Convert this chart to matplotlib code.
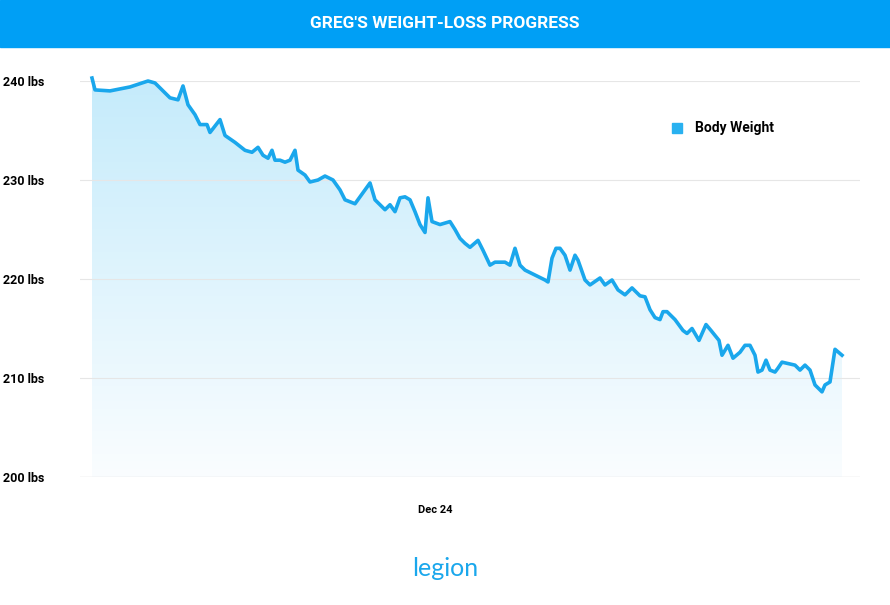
import numpy as np
import matplotlib
matplotlib.use("Agg")
import matplotlib.pyplot as plt
from matplotlib.patches import Rectangle

days = [0,0.6,3.6,7.6,11.2,12.6,15.6,17.2,18.2,19.2,20.6,21.6,23,23.6,25.6,26.6,28.6,30.6,32,33.2,34.2,35.2,36,36.6,37.6,38.6,39.6,40.6,41.2,42.6,43.6,45.2,46.6,48.2,49.6,50.6,52.6,54.6,55.6,56.6,58.6,59.6,60.6,61.6,62.6,63.6,64.6,65.6,66.6,67.2,68,69.6,71.6,72.6,73.6,74.6,75.6,77.2,78.2,79.6,80.6,81.6,82.6,83.6,84.6,85.6,86.6,88.6,90.6,91.2,92,92.8,93.6,94.6,95.6,96.6,97.2,98.6,99.6,101.6,102.6,104,105.2,106.6,108,109.6,110.6,111.6,112.6,113.6,114.2,115,116.6,118.2,119,120,121.4,122.8,123.8,125.4,126,127.2,128.2,129.6,130.6,131.6,132.6,133.2,134,134.8,135.6,136.6,137.2,138,140.6,141.6,142.6,143.6,144.6,146,146.6,147.6,148.6,150]
weights = [240.3,239.1,239.0,239.4,240.0,239.8,238.3,238.1,239.5,237.6,236.6,235.6,235.6,234.8,236.1,234.5,233.8,233.0,232.8,233.3,232.5,232.2,233.0,232.0,232.0,231.8,232.0,233.0,231.0,230.5,229.8,230.0,230.4,230.0,229.0,228.0,227.6,229.0,229.7,228.0,227.0,227.5,226.8,228.2,228.3,228.0,226.8,225.5,224.7,228.2,225.8,225.5,225.8,225.0,224.1,223.6,223.2,223.9,222.9,221.4,221.7,221.7,221.7,221.4,223.1,221.4,220.9,220.4,219.9,219.7,222.1,223.1,223.1,222.4,220.9,222.4,221.9,219.9,219.4,220.1,219.4,219.9,218.9,218.4,219.1,218.3,218.2,216.9,216.1,215.9,216.7,216.7,215.9,214.8,214.5,215.0,213.8,215.4,214.8,213.8,212.3,213.3,212.0,212.6,213.3,213.3,212.3,210.6,210.8,211.8,210.8,210.6,211.0,211.6,211.3,210.8,211.3,210.8,209.3,208.6,209.3,209.6,212.9,212.3,210.8,209.5,209.8,210.3]
n = min(len(days), len(weights))
days = np.array(days[:n]); weights = np.array(weights[:n])
yticks = [200, 210, 220, 230, 240]
ytick_labels = ["200 lbs", "210 lbs", "220 lbs", "230 lbs", "240 lbs"]
xtick_day = [68.6]
xtick_labels = ["Dec 24"]

W, H = 890, 605
fig = plt.figure(figsize=(W/100, H/100), dpi=100)
fig.patches.append(Rectangle((0, 1-47/H), 1, 47/H, transform=fig.transFigure, color="#009FF5", zorder=0))
fig.text(0.5, 1-23/H, "GREG'S WEIGHT-LOSS PROGRESS", color="white", ha="center", va="center",
         fontsize=12.5, fontweight="bold", family="Roboto")

ax = fig.add_axes([80/W, (H-477)/H, 780/W, 396/H])
ax.set_xlim(-2.4, 153.6)
ax.set_ylim(200, 240)
for s in ax.spines.values():
    s.set_visible(False)
ax.set_yticks(yticks)
ax.set_yticklabels(ytick_labels, fontsize=9, fontweight="bold", family="Roboto")
ax.set_xticks(xtick_day)
ax.set_xticklabels(xtick_labels, fontsize=8, fontweight="bold", family="Roboto")
ax.tick_params(length=0, pad=16)
ax.tick_params(axis="x", pad=20)
for lab in ax.get_yticklabels():
    lab.set_horizontalalignment("left")
    lab.set_x(-55/780)
ax.grid(axis="y", color="#e6e6e6", lw=0.8)
ax.axhline(200, color="#e6e6e6", lw=1)

poly = ax.fill_between(days, weights, 200, color="none")
grad = np.linspace(0, 1, 256).reshape(-1, 1)
from matplotlib.colors import LinearSegmentedColormap
cmap = LinearSegmentedColormap.from_list("g", ["#fafdff", "#c4ebfb"])
im = ax.imshow(grad, extent=[days[0], days[-1], 200, 241], origin="lower", cmap=cmap, aspect="auto", zorder=1)
im.set_clip_path(poly.get_paths()[0], transform=ax.transData)
ax.plot(days, weights, color="#1AA7EC", lw=2.6, solid_joinstyle="round", zorder=3, clip_on=False)

fig.patches.append(Rectangle((672/W, 1-133/H), 10/W, 10/H, transform=fig.transFigure, color="#29B1F0"))
fig.text(695/W, 1-128/H, "Body Weight", fontsize=10, fontweight="bold", va="center", family="Roboto")
fig.text(0.5, 1-569/H, "legion", color="#1AA7EC", fontsize=18, ha="center", va="center", family="Lato")

fig.savefig("out.png", dpi=100)
